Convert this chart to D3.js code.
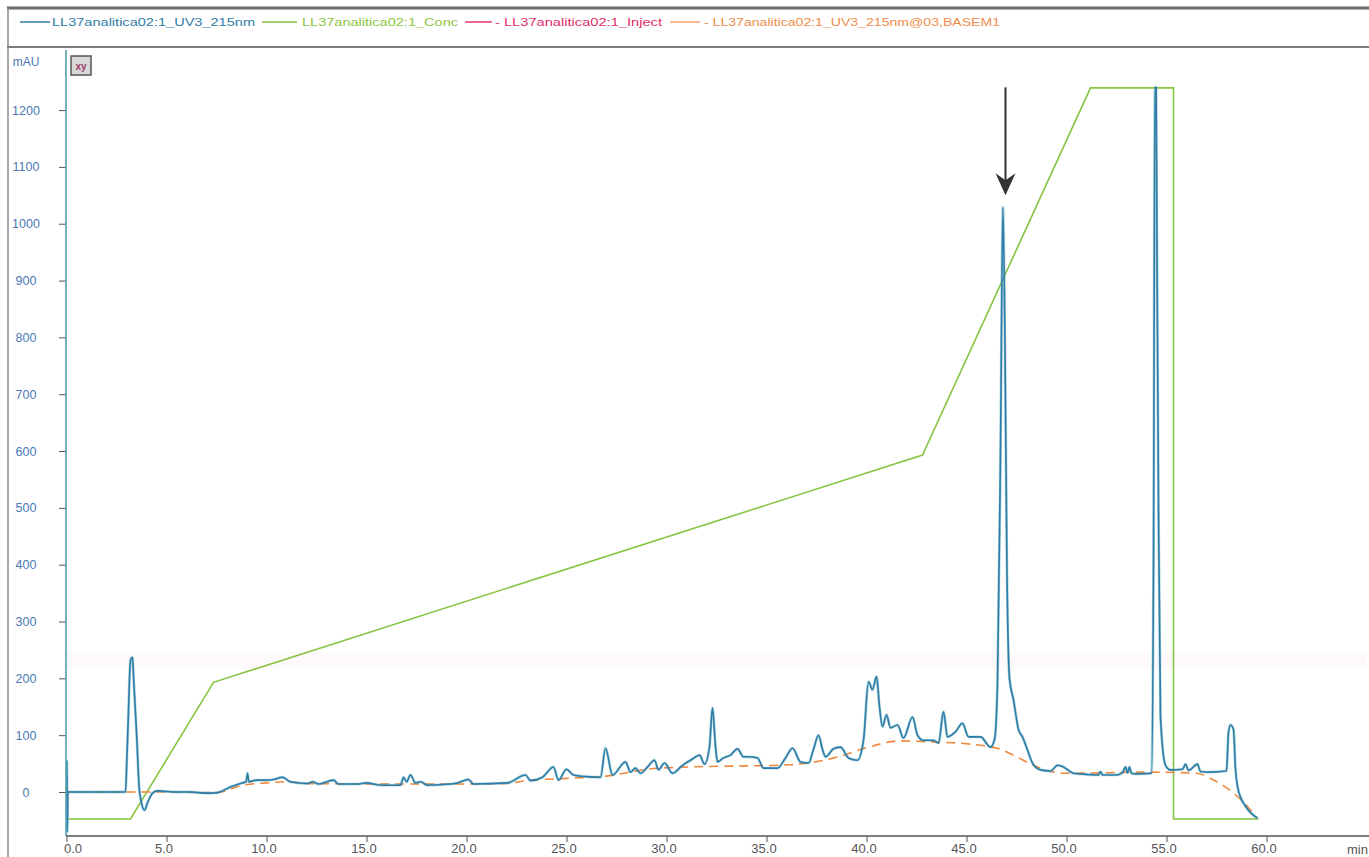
<!DOCTYPE html>
<html><head><meta charset="utf-8">
<script src="https://cdn.jsdelivr.net/npm/d3@7"></script>
<style>body{margin:0;background:#fff}svg{display:block}</style>
</head><body>
<svg id="c" width="1369" height="857"></svg>
<script>
// ---------- DATA ----------
const uvTime = [0.00,0.02,0.04,0.07,2.95,3.02,3.08,3.2,3.3,3.36,3.52,3.63,3.72,3.9,4.05,4.3,4.55,5.5,6.2,7.0,7.55,8.2,8.8,8.98,9.05,9.12,9.5,10.0,10.35,10.8,11.2,12.05,12.3,12.6,13.35,13.6,14.55,15.0,15.7,16.7,16.85,17.0,17.2,17.45,17.7,18.05,19.2,19.55,20.1,20.35,22.05,22.95,23.2,23.8,24.35,24.6,25.0,25.35,26.0,26.7,26.95,27.3,27.95,28.2,28.45,28.7,29.05,29.4,29.6,29.9,30.3,30.8,31.3,31.65,31.9,32.15,32.3,32.45,32.55,32.85,33.2,33.55,33.85,34.1,34.55,34.85,35.55,35.95,36.3,36.7,37.1,37.35,37.6,37.8,37.95,38.35,38.7,39.1,39.55,39.85,40.1,40.3,40.5,40.65,40.8,41.0,41.2,41.55,41.85,42.3,42.55,42.85,43.35,43.6,43.85,44.05,44.45,44.8,45.1,45.7,46.2,46.4,46.55,46.7,46.82,46.92,47.02,47.15,47.35,47.6,47.8,48.05,48.3,48.7,49.2,49.55,49.8,50.35,51.0,51.6,51.7,51.8,52.5,52.8,52.95,53.05,53.15,53.25,53.5,54.25,54.35,54.42,54.48,54.52,54.6,54.7,54.95,55.2,55.8,55.95,56.1,56.55,56.7,57.2,58.0,58.1,58.2,58.35,58.45,58.55,58.7,58.95,59.25,59.55];
const uvMAU = [0,55,-70,0,0,60,121,232,237,197,92,9,-14,-32,-19,-2,2,0,0,-2,-1,9,16,18,33,18,21,21,22,26,18,15,18,14,21,14,14,16,12,12,26,18,30,16,18,12,14,16,22,14,16,30,20,26,44,21,40,30,27,26,77,30,53,35,42,33,44,56,39,51,33,47,58,65,49,80,148,80,53,60,65,76,62,62,60,42,42,60,77,53,51,75,100,75,62,76,79,60,56,91,194,180,203,150,115,136,113,118,95,132,100,91,91,86,141,97,106,121,97,97,79,92,192,600,1029,800,400,200,162,110,97,74,51,39,37,47,45,33,31,30,36,30,30,34,44,34,44,33,32,33,400,1240,1240,990,500,132,47,39,40,49,38,49,36,35,37,105,118,110,40,10,-9,-25,-38,-46];

const concTime  = [0, 3.2, 7.35, 42.8, 51.2, 55.35, 55.35, 59.6];
const concValue = [-47.5, -47.5, 193, 593, 1239, 1239, -47.5, -47.5];

const baseTime  = [0, 2.9, 4.5, 7.5, 8.8, 10, 11, 12, 16, 20, 22, 23, 25, 27, 29, 31, 34, 36.2, 38.7, 40, 41.7, 43.4, 45, 46.7, 47.5, 48.3, 49, 50, 54, 56.5, 57.35, 57.8, 58.35, 58.9, 59.5];
const baseValue = [0, 0, 0, -1, 12, 16, 18, 15, 14, 14, 15, 20, 24, 28, 40, 44, 46, 48, 63, 78, 90, 88, 85, 75, 62, 48, 38, 33, 35, 33, 21, 12, -2, -20, -45];

const injectTime  = [0, 65];
const injectValue = [232, 232];

const xMajorTicks = [0,5,10,15,20,25,30,35,40,45,50,55,60];
const xMinorTicks = [2.5,7.5,12.5,17.5,22.5,27.5,32.5,37.5,42.5,47.5,52.5,57.5,62.5,65];
const yMajorTicks = [0,100,200,300,400,500,600,700,800,900,1000,1100,1200];
const yMinorTicks = [-50,50,150,250,350,450,550,650,750,850,950,1050,1150,1250,1300];

const legendLabels = ["LL37analitica02:1_UV3_215nm","LL37analitica02:1_Conc","- LL37analitica02:1_Inject","- LL37analitica02:1_UV3_215nm@03,BASEM1"];
const arrowTime = 46.95, arrowTop = 1240, arrowTip = 1050;

// ---------- STYLE ----------
const C_UV = "#2f7ca6", C_CONC = "#88c443", C_INJ = "#e2336b", C_BASE = "#f0873a";
const FONT = "Liberation Sans, Arial, sans-serif";

const svg = d3.select("#c");
svg.append("rect").attr("width",1369).attr("height",857).attr("fill","#fff");

const x = d3.scaleLinear().domain([0, 65.15]).range([66.5, 1369.5]);
const y = d3.scaleLinear().domain([-77.4, 1305]).range([836, 50.4]);

// frame
svg.append("line").attr("x1",7).attr("x2",1369).attr("y1",8).attr("y2",8).attr("stroke","#6b6b6b").attr("stroke-width",3);
svg.append("line").attr("x1",7).attr("x2",1369).attr("y1",47).attr("y2",47).attr("stroke","#7a7a7a").attr("stroke-width",2);
svg.append("line").attr("x1",8).attr("x2",8).attr("y1",8).attr("y2",857).attr("stroke","#8a8a8a").attr("stroke-width",1.5);

// legend
const leg = [
  {x1:20,x2:50,tx:52,tl:203,c:C_UV,tc:"#2f7ca6"},
  {x1:262,x2:297,tx:302,tl:156,c:C_CONC,tc:"#8cc63e"},
  {x1:465,x2:492,tx:495,tl:167,c:C_INJ,tc:"#e0306a"},
  {x1:670,x2:700,tx:704,tl:296,c:"#f7a56a",tc:"#f08d4a"}
];
leg.forEach((d,i)=>{
  svg.append("line").attr("x1",d.x1).attr("x2",d.x2).attr("y1",22).attr("y2",22).attr("stroke",d.c).attr("stroke-width",1.5);
  svg.append("text").attr("x",d.tx).attr("y",26).text(legendLabels[i])
    .attr("font-family",FONT).attr("font-size",11.5).attr("font-weight","normal")
    .attr("fill",d.tc).attr("textLength",d.tl).attr("lengthAdjust","spacingAndGlyphs");
});

// clip
svg.append("clipPath").attr("id","pc").append("rect").attr("x",66).attr("y",50).attr("width",1303).attr("height",786);
const plot = svg.append("g").attr("clip-path","url(#pc)");

const line = d3.line().x(d=>x(d[0])).y(d=>y(d[1]));
const smooth = d3.line().x(d=>x(d[0])).y(d=>y(d[1])).curve(d3.curveMonotoneX);
const zip = (a,b)=>a.map((t,i)=>[t,b[i]]);

// inject (very faint)
plot.append("path").attr("d",line(zip(injectTime,injectValue))).attr("fill","none")
  .attr("stroke","#f8dbe6").attr("stroke-opacity",0.18).attr("stroke-width",16);

// conc
plot.append("path").attr("d",line(zip(concTime,concValue))).attr("fill","none")
  .attr("stroke",C_CONC).attr("stroke-width",1.6);

// baseline
plot.append("path").attr("d",smooth(zip(baseTime,baseValue))).attr("fill","none")
  .attr("stroke",C_BASE).attr("stroke-width",1.6).attr("stroke-dasharray","9,6");

// uv
plot.append("path").attr("d",smooth(zip(uvTime,uvMAU))).attr("fill","none")
  .attr("stroke","#4aa3bd").attr("stroke-width",2.8).attr("stroke-opacity",0.45).attr("stroke-linejoin","round");
plot.append("path").attr("d",smooth(zip(uvTime,uvMAU))).attr("fill","none")
  .attr("stroke",C_UV).attr("stroke-width",1.6).attr("stroke-linejoin","round");

// arrow
const ax = x(arrowTime);
svg.append("line").attr("x1",ax).attr("x2",ax).attr("y1",y(arrowTop)).attr("y2",y(arrowTip)-12)
  .attr("stroke","#333").attr("stroke-width",2);
const tipY = y(arrowTip), topY = tipY - 22;
svg.append("path").attr("d",`M${ax},${tipY} L${ax-10},${topY} L${ax},${topY+7} L${ax+10},${topY} Z`).attr("fill","#333");

// y axis
const yAxisG = svg.append("g").attr("transform","translate(66,0)");
yAxisG.call(d3.axisLeft(y).tickValues(yMinorTicks).tickSize(4).tickFormat(""));
yAxisG.call(d3.axisLeft(y).tickValues(yMajorTicks).tickSize(7).tickFormat(d3.format("d")));
yAxisG.select(".domain").remove();
yAxisG.selectAll(".tick line").attr("stroke","#555");
yAxisG.selectAll("text").attr("x",-40).attr("text-anchor","middle").attr("fill","#4a79b4")
  .attr("font-family",FONT).attr("font-size",12.5);
svg.append("line").attr("x1",66).attr("x2",66).attr("y1",50).attr("y2",836).attr("stroke","#4fa0ad").attr("stroke-width",1.6);
svg.append("text").attr("x",26).attr("y",66).attr("text-anchor","middle").text("mAU")
  .attr("fill","#4a79b4").attr("font-family",FONT).attr("font-size",12);

// x axis
const xAxisG = svg.append("g").attr("transform","translate(0,836)");
xAxisG.call(d3.axisBottom(x).tickValues(xMinorTicks).tickSize(5).tickFormat(""));
xAxisG.call(d3.axisBottom(x).tickValues(xMajorTicks).tickSize(6).tickPadding(2).tickFormat(d=>d.toFixed(1)));
xAxisG.select(".domain").remove();
xAxisG.selectAll(".tick line").attr("stroke","#555");
xAxisG.selectAll("text").attr("x",d=>d===0?6:-3).attr("fill","#555")
  .attr("font-family",FONT).attr("font-size",13);
svg.append("line").attr("x1",66).attr("x2",1369).attr("y1",836).attr("y2",836).attr("stroke","#555").attr("stroke-width",1.5);
svg.append("text").attr("x",x(64.55)).attr("y",854).attr("text-anchor","middle").text("min")
  .attr("fill","#555").attr("font-family",FONT).attr("font-size",13);

// xy icon
svg.append("rect").attr("x",71).attr("y",56).attr("width",20).attr("height",19).attr("fill","#d8d8d8").attr("stroke","#555").attr("stroke-width",1.5);
svg.append("text").attr("x",81).attr("y",69.5).attr("text-anchor","middle").text("xy")
  .attr("fill","#a0406a").attr("font-family",FONT).attr("font-size",10).attr("font-weight","bold");
</script>
</body></html>
